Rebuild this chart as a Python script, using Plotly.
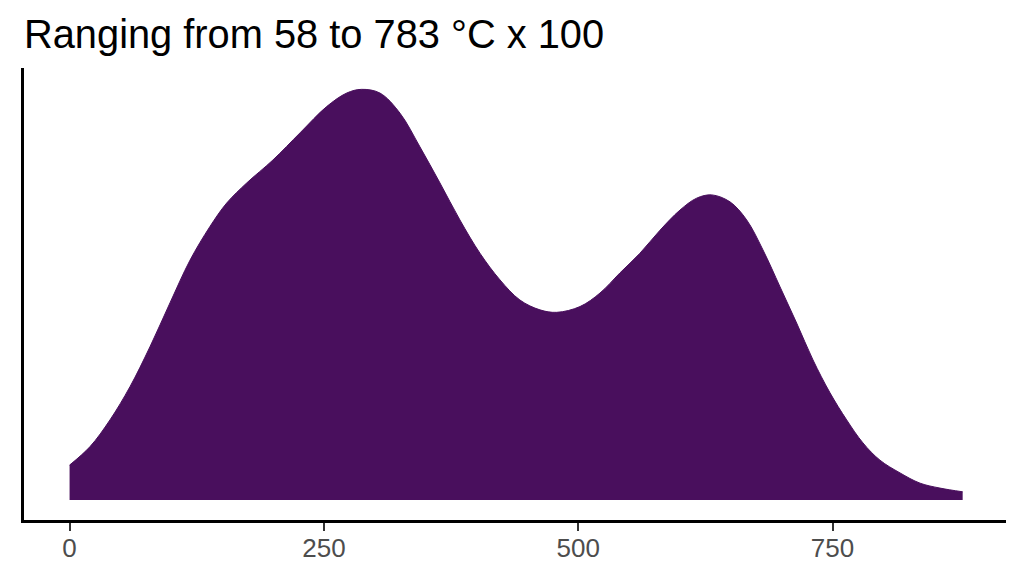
import plotly.graph_objects as go

# density curve (x in temperature units, y scaled so the peak = 1)
temp = [0, 20.1, 39.7, 59.4, 79.0, 98.7, 118.4, 138.0, 154.4, 174.1, 199.9, 226.5,
        252.7, 272.4, 287.1, 305.1, 324.8, 344.4, 364.1, 383.7, 403.4, 423.1, 442.7,
        462.4, 478.8, 501.7, 521.4, 541.0, 560.7, 580.4, 600.0, 616.4, 631.2, 649.2,
        665.6, 681.6, 698.4, 714.7, 730.8, 747.5, 763.9, 779.9, 796.6, 816.3, 836.0,
        855.6, 877.9]
density = [0.085, 0.130, 0.195, 0.276, 0.373, 0.480, 0.584, 0.666, 0.723, 0.772,
           0.828, 0.894, 0.958, 0.991, 1.000, 0.991, 0.942, 0.860, 0.772, 0.682,
           0.601, 0.536, 0.487, 0.463, 0.457, 0.471, 0.504, 0.553, 0.601, 0.657,
           0.706, 0.735, 0.743, 0.726, 0.682, 0.609, 0.519, 0.431, 0.341, 0.261,
           0.195, 0.139, 0.097, 0.066, 0.041, 0.029, 0.020]

tick_vals = [0, 250, 500, 750]
title_text = "Ranging from 58 to 783 °C x 100"

fig = go.Figure()
fig.add_trace(go.Scatter(x=temp, y=density,
                         mode='lines',
                         line=dict(color='#490F5D', width=1, shape='spline', smoothing=1.0),
                         fill='tozeroy',
                         fillcolor='#490F5D',
                         showlegend=False))

# the page body adds an 8px offset, so the figure is 8px smaller than the window
fig.update_layout(
    width=1008, height=560,
    paper_bgcolor='white', plot_bgcolor='white',
    margin=dict(l=16, r=10, t=60, b=48),
    font=dict(family='Liberation Sans, Arial, sans-serif'),
    title=dict(text=title_text, x=16/1008, xref='container', xanchor='left',
               y=1-26/560, yref='container', yanchor='middle',
               font=dict(size=39.8, color='black')),
)
fig.update_xaxes(range=[-44.8, 920.5], tickvals=tick_vals, showgrid=False, zeroline=False,
                 showline=True, linecolor='black', linewidth=2.5, automargin=False,
                 ticks='outside', ticklen=8, tickwidth=2, tickcolor='#333333',
                 ticklabelstandoff=-5,
                 tickfont=dict(size=26, color='#4D4D4D'))
fig.update_yaxes(range=[-0.0487, 1.052], showgrid=False, zeroline=False,
                 showline=True, linecolor='black', linewidth=2.5, automargin=False,
                 showticklabels=False, ticks='')

fig.write_html("out.html")
